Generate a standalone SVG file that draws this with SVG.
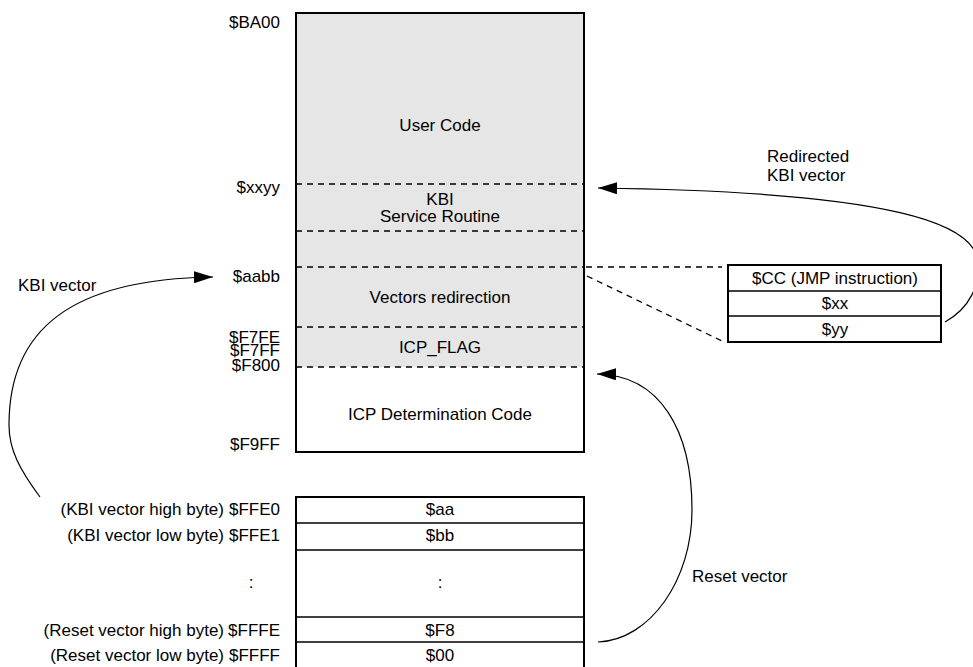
<svg xmlns="http://www.w3.org/2000/svg" width="973" height="667" viewBox="0 0 973 667">
<style>
text{font-family:"Liberation Sans",Arial,sans-serif;font-size:17px;fill:#000}
.c{text-anchor:middle}
.r{text-anchor:end}
.box{fill:none;stroke:#000;stroke-width:2}
.div{stroke:#000;stroke-width:1.6}
.dash{stroke:#000;stroke-width:1.3;stroke-dasharray:6 5;fill:none}
.conn{fill:none;stroke:#000;stroke-width:1.2}
</style>
<defs>
<marker id="arr" markerUnits="userSpaceOnUse" markerWidth="20" markerHeight="12" refX="19" refY="6" orient="auto">
<path d="M0,0 L19,6 L0,12 z" fill="#000"/>
</marker>
</defs>
<rect width="973" height="667" fill="#fff"/>

<g id="memory-map">
<rect x="296" y="13" width="288" height="354" fill="#e6e6e6"/>
<line class="dash" x1="296" y1="184" x2="584" y2="184"/>
<line class="dash" x1="296" y1="231" x2="584" y2="231"/>
<line class="dash" x1="296" y1="267" x2="584" y2="267"/>
<line class="dash" x1="296" y1="327" x2="584" y2="327"/>
<line class="dash" x1="296" y1="367" x2="584" y2="367"/>
<rect class="box" x="296" y="13" width="288" height="439"/>
<text class="c" x="440" y="131">User Code</text>
<text class="c" x="440" y="205">KBI</text>
<text class="c" x="440" y="222">Service Routine</text>
<text class="c" x="440" y="303">Vectors redirection</text>
<text class="c" x="440" y="353">ICP_FLAG</text>
<text class="c" x="440" y="420">ICP Determination Code</text>
<text class="r" x="280" y="28">$BA00</text>
<text class="r" x="280" y="193">$xxyy</text>
<text class="r" x="280" y="282">$aabb</text>
<text class="r" x="280" y="343">$F7FE</text>
<text class="r" x="280" y="356">$F7FF</text>
<text class="r" x="280" y="371">$F800</text>
<text class="r" x="280" y="450">$F9FF</text>
</g>

<g id="vector-table">
<rect class="box" x="296" y="497" width="288" height="172"/>
<line class="div" x1="296" y1="523" x2="584" y2="523"/>
<line class="div" x1="296" y1="550" x2="584" y2="550"/>
<line class="div" x1="296" y1="617" x2="584" y2="617"/>
<line class="div" x1="296" y1="642" x2="584" y2="642"/>
<text class="c" x="440" y="515">$aa</text>
<text class="c" x="440" y="541">$bb</text>
<text class="c" x="440" y="588">:</text>
<text class="c" x="440" y="636">$F8</text>
<text class="c" x="440" y="661">$00</text>
<text class="r" x="224" y="515">(KBI vector high byte)</text>
<text class="r" x="280" y="515">$FFE0</text>
<text class="r" x="224" y="541">(KBI vector low byte)</text>
<text class="r" x="280" y="541">$FFE1</text>
<text class="c" x="251" y="588">:</text>
<text class="r" x="224" y="636">(Reset vector high byte)</text>
<text class="r" x="280" y="636">$FFFE</text>
<text class="r" x="224" y="661">(Reset vector low byte)</text>
<text class="r" x="280" y="661">$FFFF</text>
</g>

<g id="jmp-box">
<rect class="box" x="728" y="265" width="213" height="77"/>
<line class="div" x1="728" y1="291" x2="941" y2="291"/>
<line class="div" x1="728" y1="316" x2="941" y2="316"/>
<text class="c" x="835" y="284">$CC (JMP instruction)</text>
<text class="c" x="835" y="309">$xx</text>
<text class="c" x="835" y="335">$yy</text>
</g>

<g id="labels">
<text x="18" y="291">KBI vector</text>
<text x="767" y="162">Redirected</text>
<text x="767" y="181">KBI vector</text>
<text x="692" y="582">Reset vector</text>
</g>

<g id="connectors">
<line class="dash" x1="586" y1="267" x2="722" y2="267"/>
<line class="dash" x1="587" y1="276" x2="722" y2="341"/>
<path class="conn" d="M40,497 C20,470 9,450 9,425 C9,330 70,279 213,277" marker-end="url(#arr)"/>
<path class="conn" d="M598,642 C650,640 692,580 692,510 C692,430 660,375 597,374" marker-end="url(#arr)"/>
<path class="conn" d="M945,322 C970,308 980,285 978,262 C975,225 900,192 598,188" marker-end="url(#arr)"/>
</g>
</svg>
